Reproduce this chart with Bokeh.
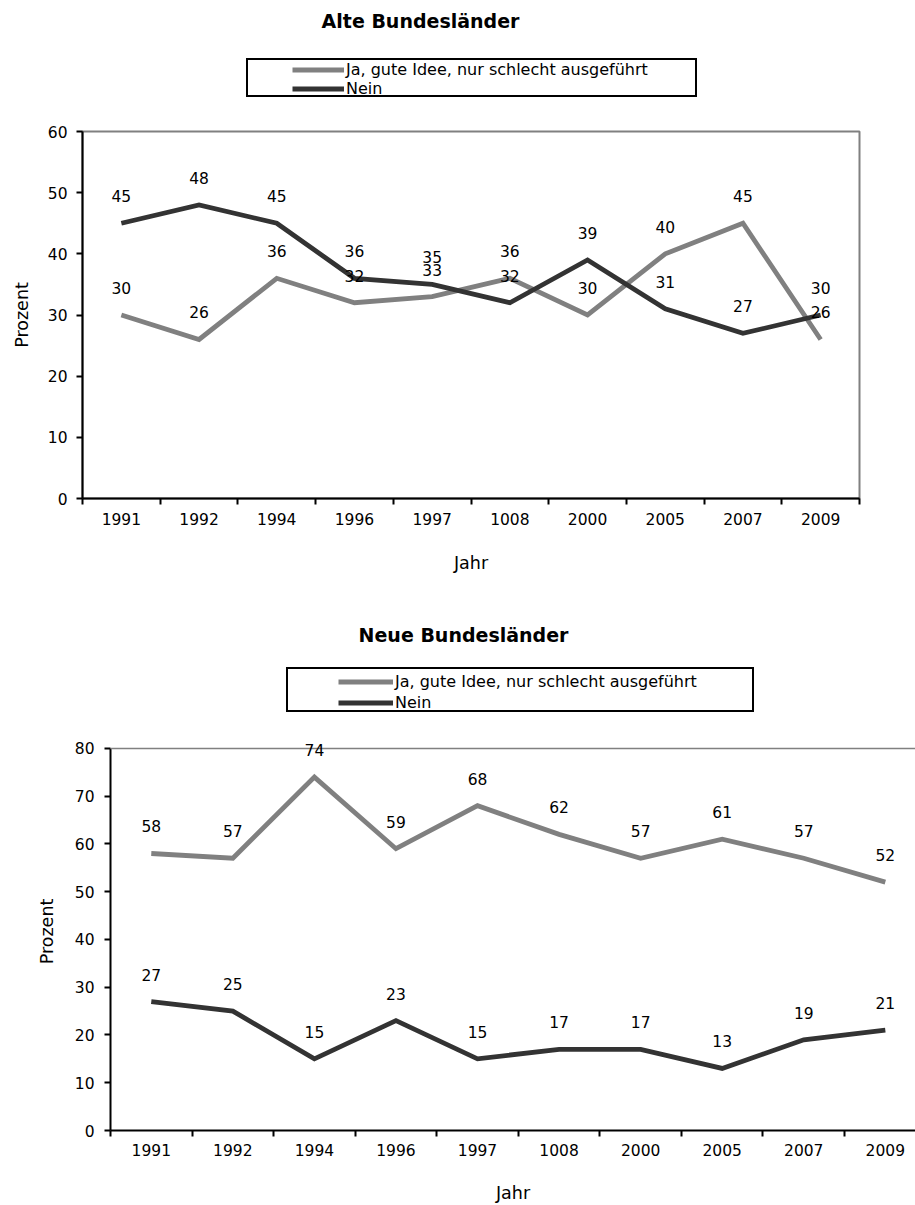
from bokeh.plotting import figure
from bokeh.models import (Range1d, FixedTicker, Legend, LegendItem, LabelSet, Label,
                          ColumnDataSource, Span)
from bokeh.core.properties import value
from bokeh.embed import file_html
from bokeh.resources import INLINE

# ---------------- data ----------------
years = ["1991", "1992", "1994", "1996", "1997", "1008", "2000", "2005", "2007", "2009"]
series_names = ["Ja, gute Idee, nur schlecht ausgeführt", "Nein"]
titles = ["Alte Bundesländer", "Neue Bundesländer"]
x_title = "Jahr"
y_title = "Prozent"

alte_ja = [30, 26, 36, 32, 33, 36, 30, 40, 45, 26]
alte_nein = [45, 48, 45, 36, 35, 32, 39, 31, 27, 30]
neue_ja = [58, 57, 74, 59, 68, 62, 57, 61, 57, 52]
neue_nein = [27, 25, 15, 23, 15, 17, 17, 13, 19, 21]

alte_yticks = [0, 10, 20, 30, 40, 50, 60]
neue_yticks = [0, 10, 20, 30, 40, 50, 60, 70, 80]

# ---------------- styles ----------------
GRAY = "#808080"
DARK = "#333333"
FONT = "DejaVu Sans"
TICK_FS = "15.5px"
LBL_FS = "17.5px"
LEG_FS = "16px"
TITLE_FS = "19px"
LINE_W = 4.8


def header(title, ja, nein, cfg):
    """Title and legend strip above a chart."""
    xs = list(range(len(years)))
    h = figure(width=915, height=cfg["height"], output_backend="svg", toolbar_location=None,
               x_axis_type=None, y_axis_type=None,
               x_range=Range1d(-0.5, 9.5), y_range=Range1d(-20, -10),
               min_border=0)
    h.background_fill_color = "white"
    h.border_fill_color = "white"
    h.outline_line_color = None
    # series renderers (outside the strip's visible range) feed the legend glyphs
    r_ja = h.line(xs, ja, line_color=GRAY, line_width=LINE_W)
    r_nein = h.line(xs, nein, line_color=DARK, line_width=LINE_W)
    r_dummy = h.line(xs, ja, line_alpha=0)

    box = Legend(items=[LegendItem(label=" ", renderers=[r_dummy])],
                 location=cfg["box_loc"], padding=0, margin=0, spacing=0,
                 glyph_width=1, glyph_height=cfg["box_h"], label_standoff=0,
                 label_width=cfg["box_w"] - 1, label_height=cfg["box_h"],
                 label_text_font_size="1px",
                 border_line_color="black", border_line_width=2, border_line_alpha=1,
                 background_fill_color="white", background_fill_alpha=1)
    h.add_layout(box, "center")
    leg = Legend(items=[LegendItem(label=series_names[0], renderers=[r_ja]),
                        LegendItem(label=series_names[1], renderers=[r_nein])],
                 location=cfg["leg_loc"], padding=0, margin=0, spacing=0,
                 glyph_width=cfg["glyph_w"], glyph_height=cfg["row_h"],
                 label_standoff=2, label_height=cfg["row_h"],
                 label_text_font=FONT, label_text_font_size=LEG_FS,
                 label_text_color="black",
                 border_line_color=None, background_fill_alpha=0)
    h.add_layout(leg, "center")
    h.add_layout(Label(x=cfg["title_x"], y=cfg["title_y"], x_units="screen", y_units="screen",
                       text=title, text_align="center", text_baseline="middle",
                       text_font=FONT, text_font_size=TITLE_FS, text_font_style="bold",
                       text_color="black"))
    return h


def chart(ja, nein, yticks, cfg):
    xs = list(range(len(years)))
    ymax = yticks[-1]
    p = figure(width=915, height=cfg["height"], output_backend="svg",
               toolbar_location=None,
               x_range=Range1d(-0.5, cfg["x_end"]), y_range=Range1d(0, cfg["y_end"]),
               min_border_left=cfg["bl"], min_border_right=cfg["br"],
               min_border_top=cfg["bt"], min_border_bottom=cfg["bb"])
    p.background_fill_color = "white"
    p.border_fill_color = "white"
    p.xgrid.visible = False
    p.ygrid.visible = False
    if cfg["outline"]:
        p.outline_line_color = GRAY
        p.outline_line_width = 2
    else:
        p.outline_line_color = None
        p.add_layout(Span(location=ymax, dimension="width", line_color=GRAY,
                          line_width=1.5))

    # x axis
    xa = p.xaxis[0]
    xa.ticker = FixedTicker(ticks=xs, minor_ticks=[i - 0.5 for i in range(len(years) + 1)])
    xa.major_label_overrides = {i: y for i, y in enumerate(years)}
    xa.major_tick_line_color = None
    xa.major_tick_out = 0
    xa.major_tick_in = 0
    xa.minor_tick_line_color = "black"
    xa.minor_tick_line_width = 2
    xa.minor_tick_out = 6
    xa.minor_tick_in = 0
    xa.axis_line_color = "black"
    xa.axis_line_width = 2
    xa.major_label_text_font = FONT
    xa.major_label_text_font_size = TICK_FS
    xa.major_label_text_color = "black"
    xa.major_label_standoff = cfg["xstand"]
    xa.axis_label = x_title
    xa.axis_label_text_font = FONT
    xa.axis_label_text_font_size = LBL_FS
    xa.axis_label_text_font_style = "normal"
    xa.axis_label_text_color = "black"
    xa.axis_label_standoff = cfg["xlstand"]

    # y axis
    ya = p.yaxis[0]
    ya.ticker = FixedTicker(ticks=yticks)
    ya.bounds = (0, ymax)
    ya.minor_tick_line_color = None
    ya.major_tick_out = 6
    ya.major_tick_in = 0
    ya.major_tick_line_width = 2
    ya.major_tick_line_color = "black"
    ya.axis_line_color = "black"
    ya.axis_line_width = 2
    ya.major_label_text_font = FONT
    ya.major_label_text_font_size = TICK_FS
    ya.major_label_text_color = "black"
    ya.major_label_standoff = cfg["ystand"]
    ya.axis_label = y_title
    ya.axis_label_text_font = FONT
    ya.axis_label_text_font_size = LBL_FS
    ya.axis_label_text_font_style = "normal"
    ya.axis_label_text_color = "black"
    ya.axis_label_standoff = cfg["ylstand"]

    # lines
    p.line(xs, ja, line_color=GRAY, line_width=LINE_W, line_join="miter")
    p.line(xs, nein, line_color=DARK, line_width=LINE_W, line_join="miter")

    # data labels
    for vals in (ja, nein):
        src = ColumnDataSource(dict(x=xs, y=vals, t=[str(v) for v in vals]))
        p.add_layout(LabelSet(x="x", y="y", text="t", source=src, y_offset=27,
                              text_align="center", text_baseline="middle",
                              text_font=value(FONT), text_font_size=value(TICK_FS),
                              text_color="black"))
    return p


# page layout (px): header 0..121, top chart 121..590, header 590..732, bottom chart 732..1205
hdr_top = dict(height=121, box_loc=(246, 24), box_w=447, box_h=35,
               leg_loc=(292, 23), glyph_w=52, row_h=17,
               title_x=420, title_y=101)
cfg_top = dict(height=469, bl=82, br=56, bt=10, bb=92, x_end=9.5, y_end=60, outline=True,
               xstand=8, xlstand=25, ystand=9, ylstand=13)
hdr_bot = dict(height=142, box_loc=(286, 20), box_w=464, box_h=41,
               leg_loc=(338, 19), glyph_w=55, row_h=21,
               title_x=463, title_y=98)
cfg_bot = dict(height=473, bl=110, br=0, bt=0, bb=73,
               x_end=-0.5 + 805 / 81.56, y_end=80 + 16 / 4.8, outline=False,
               xstand=7, xlstand=24, ystand=10, ylstand=15)

h1 = header(titles[0], alte_ja, alte_nein, hdr_top)
p1 = chart(alte_ja, alte_nein, alte_yticks, cfg_top)
h2 = header(titles[1], neue_ja, neue_nein, hdr_bot)
p2 = chart(neue_ja, neue_nein, neue_yticks, cfg_bot)

open("out.html", "w").write(file_html([h1, p1, h2, p2], INLINE))
